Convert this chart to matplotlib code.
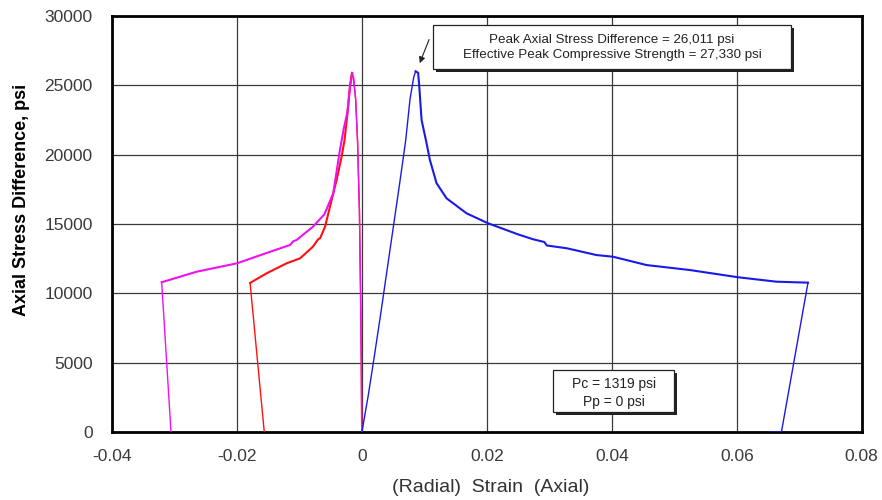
import matplotlib
matplotlib.use("Agg")
import matplotlib.pyplot as plt
from matplotlib.patches import Rectangle

plt.rcParams['font.family'] = ['Liberation Sans', 'DejaVu Sans']

# Axial strain vs. axial stress difference
axial_strain = [0.0, 0.0010, 0.0020, 0.0030, 0.0040, 0.0050, 0.0055, 0.0060, 0.0070,
                0.0077, 0.0083, 0.0086, 0.0090, 0.0092, 0.00955, 0.01035, 0.01088,
                0.01195, 0.01355, 0.01675, 0.0202, 0.0250, 0.0274, 0.0292, 0.0296,
                0.0328, 0.03755, 0.0402, 0.04555, 0.0525, 0.0602, 0.06635, 0.0714,
                0.06715, 0.0653]
axial_stress = [0, 2600, 5500, 8500, 11600, 14700, 16250, 17800, 21000,
                24000, 25600, 26011, 25900, 24800, 22500, 20820, 19620,
                17940, 16850, 15770, 15050, 14250, 13900, 13700, 13450,
                13250, 12760, 12640, 12040, 11680, 11160, 10840, 10770,
                0, 0]

# Radial strain, first gauge
radial1_strain = [-0.00003, -0.0001, -0.0002, -0.0004, -0.0007, -0.0010, -0.0014,
                  -0.0016, -0.0019, -0.0023, -0.0028, -0.00325, -0.00405, -0.00485,
                  -0.0059, -0.0067, -0.0070, -0.00785, -0.0099, -0.01205, -0.01525,
                  -0.0179, -0.01563]
radial1_stress = [0, 5000, 9500, 16000, 21000, 24000, 25600,
                  25900, 25000, 23000, 21000, 19860, 18170, 16730,
                  14800, 13970, 13900, 13360, 12525, 12165, 11445,
                  10750, 0]

# Radial strain, second gauge
radial2_strain = [-0.00003, -0.0001, -0.0002, -0.0004, -0.0007, -0.0010, -0.0013,
                  -0.00155, -0.0019, -0.00235, -0.0029, -0.00352, -0.00459,
                  -0.00600, -0.00785, -0.01045, -0.0110, -0.0115, -0.0150, -0.0200,
                  -0.02645, -0.03205, -0.03056]
radial2_stress = [0, 5000, 9500, 16000, 21000, 24000, 25500,
                  25870, 24900, 23000, 21900, 20340, 17210,
                  15700, 14800, 13850, 13750, 13490, 12950, 12165,
                  11560, 10800, 0]

x_ticks = [-0.04, -0.02, 0, 0.02, 0.04, 0.06, 0.08]
x_tick_labels = ['-0.04', '-0.02', '0', '0.02', '0.04', '0.06', '0.08']
y_ticks = [0, 5000, 10000, 15000, 20000, 25000, 30000]
y_tick_labels = ['0', '5000', '10000', '15000', '20000', '25000', '30000']

fig = plt.figure(figsize=(8.82, 5.0), dpi=100)
ax = fig.add_axes([0.127, 0.136, 0.850, 0.832])


def draw_curve(xs, ys, color, peak_idx, z):
    # thin loading branch, heavier post-peak branch, thin unloading branch
    ax.plot(xs[:peak_idx + 1], ys[:peak_idx + 1], color=color, lw=1.0, zorder=z)
    ax.plot(xs[peak_idx:-1], ys[peak_idx:-1], color=color, lw=1.5, zorder=z)
    ax.plot(xs[-2:], ys[-2:], color=color, lw=1.0, zorder=z)


draw_curve(radial1_strain, radial1_stress, '#ff1010', 7, 3)
draw_curve(radial2_strain, radial2_stress, '#f010f0', 7, 4)
ax.plot(axial_strain[:12], axial_stress[:12], color='#1a1ae6', lw=1.0, zorder=5)
ax.plot(axial_strain[11:33], axial_stress[11:33], color='#1a1ae6', lw=1.5, zorder=5)
ax.plot(axial_strain[32:], axial_stress[32:], color='#1a1ae6', lw=1.0, zorder=5)

ax.set_xlim(-0.04, 0.08)
ax.set_ylim(0, 30000)
ax.set_xticks(x_ticks)
ax.set_xticklabels(x_tick_labels)
ax.set_yticks(y_ticks)
ax.set_yticklabels(y_tick_labels)
ax.tick_params(length=0, labelsize=12.5, labelcolor='#3a3a3a')
ax.tick_params(axis='x', pad=12)
ax.tick_params(axis='y', pad=14)
ax.grid(True, color='#3a3a3a', lw=0.9, zorder=1)
ax.set_axisbelow(True)
for s in ax.spines.values():
    s.set_linewidth(2.0)
    s.set_color('black')

fig.text(22 / 882, 1 - 200 / 500, 'Axial Stress Difference, psi', rotation=90,
         ha='center', va='center', fontsize=13, fontweight='bold', color='black')
fig.text(491 / 882, 1 - 488 / 500, '(Radial)  Strain  (Axial)', ha='center',
         va='center', fontsize=14, color='#333333')


def shadow_box(x0, y0, x1, y1):
    ax.add_patch(Rectangle((x0 + 0.004, y0 - 0.007), x1 - x0, y1 - y0,
                           transform=ax.transAxes, fc='#222222', ec='none',
                           zorder=8, clip_on=False))
    ax.add_patch(Rectangle((x0, y0), x1 - x0, y1 - y0, transform=ax.transAxes,
                           fc='white', ec='#222222', lw=0.9, zorder=9, clip_on=False))


shadow_box(0.428, 0.872, 0.906, 0.978)
ax.text(0.667, 0.924,
        'Peak Axial Stress Difference = 26,011 psi\nEffective Peak Compressive Strength = 27,330 psi',
        transform=ax.transAxes, ha='center', va='center', fontsize=9.6,
        color='#222222', linespacing=1.3, zorder=10)

shadow_box(0.588, 0.049, 0.750, 0.149)
ax.text(0.669, 0.094, 'Pc = 1319 psi\nPp = 0 psi', transform=ax.transAxes,
        ha='center', va='center', fontsize=10, color='#222222',
        linespacing=1.3, zorder=10)

ax.annotate('', xy=(0.00925, 26600), xytext=(0.01075, 28300),
            arrowprops=dict(arrowstyle='-|>', color='#222222', lw=0.8,
                            mutation_scale=9, shrinkA=0, shrinkB=0),
            zorder=10)

fig.savefig('out.png', dpi=100)
